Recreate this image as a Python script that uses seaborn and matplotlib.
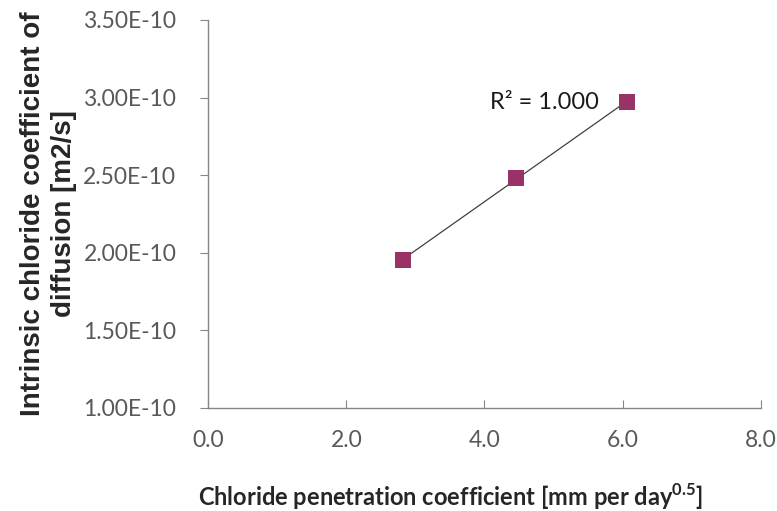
import numpy as np
import pandas as pd
import matplotlib
matplotlib.use("Agg")
import matplotlib.pyplot as plt
import seaborn as sns

# values
penetration = [2.82, 4.46, 6.06]           # mm per day^0.5
diffusion = [1.955e-10, 2.48e-10, 2.972e-10]  # m2/s
x_ticks = [0.0, 2.0, 4.0, 6.0, 8.0]
y_ticks = [1.0e-10, 1.5e-10, 2.0e-10, 2.5e-10, 3.0e-10, 3.5e-10]

sns.set_style("white")
plt.rcParams["font.family"] = ["Lato", "DejaVu Sans"]
plt.rcParams["mathtext.fontset"] = "custom"
plt.rcParams["mathtext.rm"] = "Lato"
plt.rcParams["mathtext.bf"] = "Lato:bold"

df = pd.DataFrame({"x": penetration, "y": diffusion})

fig = plt.figure(figsize=(7.77, 5.11), dpi=100)
ax = fig.add_axes([0.268, 0.2016, 0.711, 0.7594])

# linear trendline over the data range
slope, icpt = np.polyfit(df["x"], df["y"], 1)
xs = np.array([df["x"].min(), df["x"].max()])
ax.plot(xs, slope * xs + icpt, color="#404040", lw=0.9, zorder=2)

sns.scatterplot(data=df, x="x", y="y", marker="s", s=130, color="#993366",
                edgecolor="#993366", linewidth=0, ax=ax, zorder=3)

pred = slope * df["x"] + icpt
r2 = 1 - ((df["y"] - pred) ** 2).sum() / ((df["y"] - df["y"].mean()) ** 2).sum()
ax.text(4.08, 2.97e-10, f"R² = {r2:.3f}", fontsize=17, color="#1a1a1a",
        va="center", ha="left")

ax.set_xlim(0, 8)
ax.set_ylim(1.0e-10, 3.5e-10)
ax.set_xticks(x_ticks)
ax.set_yticks(y_ticks)
ax.set_xticklabels([f"{v:.1f}" for v in x_ticks])
ax.set_yticklabels([f"{v / 1e-10:.2f}E-10" for v in y_ticks])

for s in ["top", "right"]:
    ax.spines[s].set_visible(False)
for s in ["left", "bottom"]:
    ax.spines[s].set_color("#868686")
    ax.spines[s].set_linewidth(1.0)

ax.tick_params(axis="y", direction="out", length=6, color="#868686",
               labelsize=16.5, labelcolor="#595959", pad=17)
ax.tick_params(axis="x", direction="in", length=6, color="#868686",
               labelsize=16.5, labelcolor="#595959", pad=16)
ax.tick_params(left=True, bottom=True)

ax.set_xlabel(r"Chloride penetration coefficient [mm per day$^{\mathbf{0.5}}$]",
              fontsize=17, fontweight="bold")
ax.xaxis.set_label_coords(0.4376, -0.19)
ax.set_ylabel("Intrinsic chloride coefficient of\ndiffusion [m2/s]",
              fontsize=20, fontweight="bold", family="Liberation Sans",
              linespacing=1.25)
ax.yaxis.set_label_coords(-0.237, 0.5)

fig.savefig("out.png", dpi=100)
